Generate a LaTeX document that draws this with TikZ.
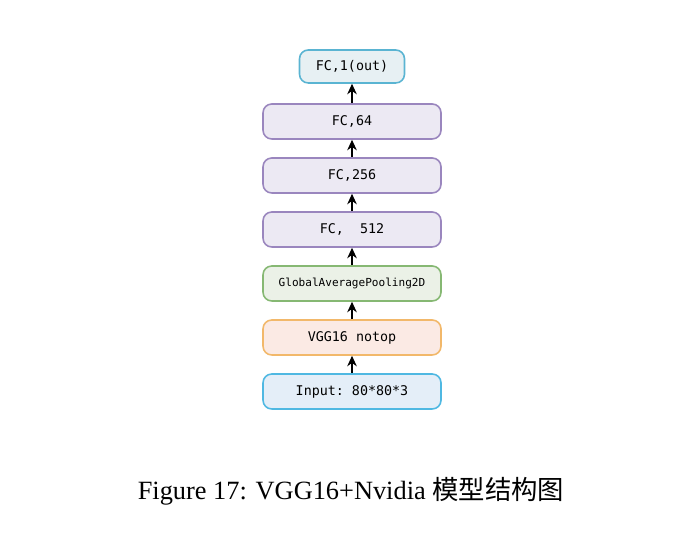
\documentclass[tikz,border=0pt]{standalone}
\usepackage{fontspec}
\setmainfont{Liberation Serif}
\setmonofont{DejaVu Sans Mono}
\newfontfamily\cjk{Noto Sans CJK SC}
\usetikzlibrary{arrows.meta}

\definecolor{fcline}{HTML}{9A86BE}
\definecolor{fcfill}{HTML}{ECE9F3}
\definecolor{outline}{HTML}{5AB4D2}
\definecolor{outfill}{HTML}{E7F0F3}
\definecolor{gapline}{HTML}{86B873}
\definecolor{gapfill}{HTML}{EBF1E7}
\definecolor{vggline}{HTML}{F2B86A}
\definecolor{vggfill}{HTML}{FBEAE4}
\definecolor{inline}{HTML}{4FB8E2}
\definecolor{infill}{HTML}{E4EEF8}

\tikzset{
  layer/.style={draw, line width=0.9pt, rounded corners=5pt,
    minimum width=3.56cm, minimum height=0.70cm, inner sep=0pt,
    font=\ttfamily\fontsize{7.6}{9}\selectfont},
  fclayer/.style={layer, draw=fcline, fill=fcfill},
  flow/.style={-{Stealth[length=6pt,width=5.5pt]}, line width=0.8pt}
}

\begin{document}
\begin{tikzpicture}
	\useasboundingbox (0, 0) rectangle (13.6, 10.74);
	\node [layer, draw=outline, fill=outfill, minimum width=2.1cm,
	       minimum height=0.66cm] (out) at (7.04, 9.41) {FC,1(out)};
	\node [fclayer] (fc64) at (7.04, 8.31) {FC,64};
	\node [fclayer] (fc256) at (7.04, 7.23) {FC,256};
	\node [fclayer] (fc512) at (7.04, 6.15) {FC,\ \ 512};
	\node [layer, draw=gapline, fill=gapfill,
	       font=\ttfamily\fontsize{6.3}{8}\selectfont] (gap) at (7.04, 5.07)
	       {GlobalAveragePooling2D};
	\node [layer, draw=vggline, fill=vggfill] (vgg) at (7.04, 3.99) {VGG16 notop};
	\node [layer, draw=inline, fill=infill] (input) at (7.04, 2.91) {Input: 80*80*3};
	\draw [flow] (input) -- (vgg);
	\draw [flow] (vgg) -- (gap);
	\draw [flow] (gap) -- (fc512);
	\draw [flow] (fc512) -- (fc256);
	\draw [flow] (fc256) -- (fc64);
	\draw [flow] (fc64) -- (out);
	\node [font=\fontsize{15}{18}\selectfont] (caption) at (7.02, 0.92)
	      {Figure 17: VGG16+Nvidia {\cjk 模型结构图}};
\end{tikzpicture}
\end{document}
